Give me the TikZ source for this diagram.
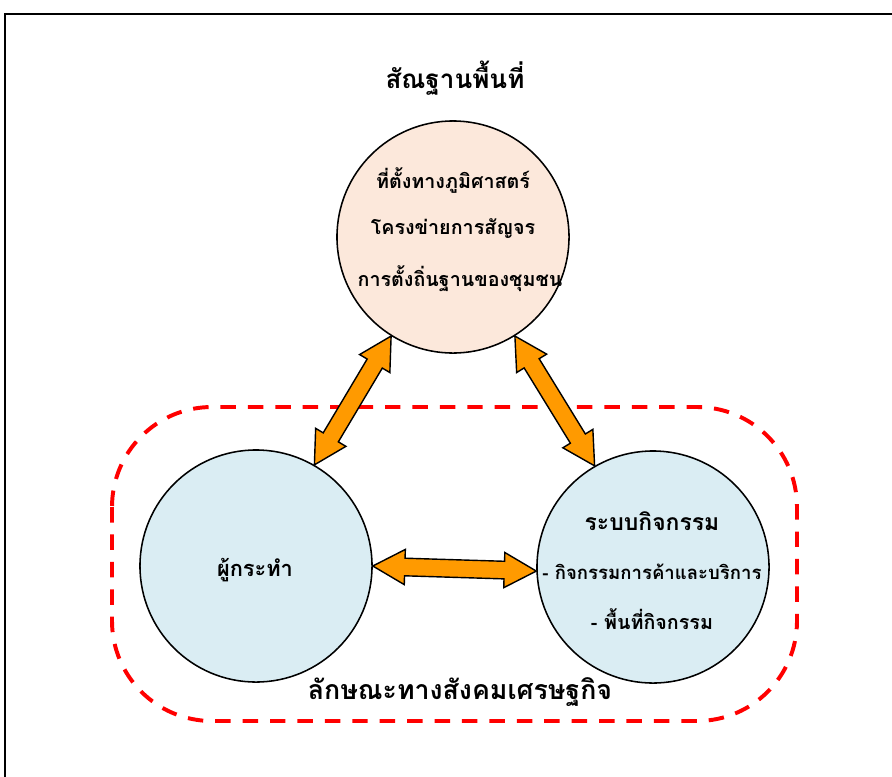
\documentclass[tikz,border=0pt]{standalone}
\usepackage{fontspec}
\setmainfont{Liberation Sans}
\newfontfamily\thaifont[Script=Thai]{Loma}
\usetikzlibrary{calc}

\definecolor{peachfill}{HTML}{FCE8DB}
\definecolor{bluefill}{HTML}{DAEDF3}
\definecolor{arroworange}{HTML}{FF9A00}

\tikzset{
	zone/.style={circle, draw=black, line width=1.1pt, minimum size=5.8cm, inner sep=0pt},
	thaitext/.style={font=\thaifont\bfseries\fontsize{14}{16}\selectfont, inner sep=1pt},
	headtext/.style={font=\thaifont\bfseries\fontsize{18.5}{20}\selectfont, inner sep=1pt},
	fatarrow/.style={fill=arroworange, draw=black, line width=1pt, line join=miter},
}

% fat double arrow between two points
\newcommand\dblarrow[2]{%
	\coordinate (p1) at ($(#1)!0.8cm!(#2)$);
	\coordinate (p2) at ($(#2)!0.8cm!(#1)$);
	\filldraw[fatarrow] (#1)
		-- ($(p1)!0.44cm!90:(#2)$) -- ($(p1)!0.22cm!90:(#2)$)
		-- ($(p2)!0.22cm!-90:(#1)$) -- ($(p2)!0.44cm!-90:(#1)$)
		-- (#2)
		-- ($(p2)!0.44cm!90:(#1)$) -- ($(p2)!0.22cm!90:(#1)$)
		-- ($(p1)!0.22cm!-90:(#2)$) -- ($(p1)!0.44cm!-90:(#2)$)
		-- cycle;
}

\begin{document}
\begin{tikzpicture}[x=0.025cm, y=-0.025cm]
	\useasboundingbox (0,0) rectangle (892,776);
	\clip (0,0) rectangle (892,776);
	\draw[line width=1.4pt] (5,14) rectangle (910,800);

	% socio-economic zone
	\draw[red, line width=2.8pt, dash pattern=on 11pt off 8.5pt, rounded corners=2.5cm]
		(112,407) rectangle (797,721);

	\node[headtext] (formtitle) at (455,78) {สัณฐานพื้นที่};
	\node[zone, fill=peachfill] (form) at (453,237) {};
	\node[thaitext] (geo)  at (453,180) {ที่ตั้งทางภูมิศาสตร์};
	\node[thaitext] (net)  at (453,229) {โครงข่ายการสัญจร};
	\node[thaitext] (sett) at (460,279) {การตั้งถิ่นฐานของชุมชน};

	\node[zone, fill=bluefill] (actor) at (256,566) {};
	\node[thaitext, font=\thaifont\bfseries\fontsize{15.5}{17}\selectfont] (actorname) at (255,570) {ผู้กระทำ};

	\node[zone, fill=bluefill] (activity) at (653,567) {};
	\node[thaitext, font=\thaifont\bfseries\fontsize{16.3}{18}\selectfont] (acttitle) at (652,521) {ระบบกิจกรรม};
	\node[thaitext, font=\thaifont\bfseries\fontsize{13.2}{15}\selectfont] (trade) at (652,572) {- กิจกรรมการค้าและบริการ};
	\node[thaitext] (space) at (652,619) {- พื้นที่กิจกรรม};

	\node[headtext, font=\thaifont\bfseries\fontsize{19}{21}\selectfont] (socio) at (460,692) {ลักษณะทางสังคมเศรษฐกิจ};

	\dblarrow{form.238}{actor.60}
	\dblarrow{form.302}{activity.120}
	\dblarrow{actor.0}{activity.182}
\end{tikzpicture}
\end{document}
